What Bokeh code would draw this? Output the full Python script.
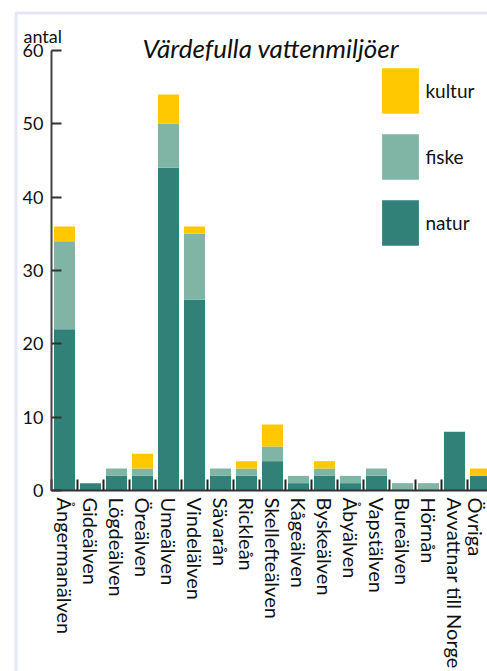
from bokeh.plotting import figure
from bokeh.models import (ColumnDataSource, Range1d, FixedTicker, Legend,
                          LegendItem, Label, BoxAnnotation)
from bokeh.embed import file_html
from bokeh.resources import INLINE

# Värdefulla vattenmiljöer per avrinningsområde
categories = ["Ångermanälven", "Gideälven", "Lögdeälven", "Öreälven", "Umeälven",
              "Vindelälven", "Sävarån", "Rickleån", "Skellefteälven", "Kågeälven",
              "Byskeälven", "Åbyälven", "Vapstälven", "Bureälven", "Hörnån",
              "Avvattnar till Norge", "Övriga"]
natur = [22, 1, 2, 2, 44, 26, 2, 2, 4, 1, 2, 1, 2, 0, 0, 8, 2]
fiske = [12, 0, 1, 1, 6, 9, 1, 1, 2, 1, 1, 1, 1, 1, 1, 0, 0]
kultur = [2, 0, 0, 2, 4, 1, 0, 1, 3, 0, 1, 0, 0, 0, 0, 0, 1]
y_ticks = [0, 10, 20, 30, 40, 50, 60]

series = ["natur", "fiske", "kultur"]
colors = {"natur": "#318178", "fiske": "#80B4A4", "kultur": "#FFC800"}
FONT = "Lato"

# canvas geometry (px); the plot frame covers the whole canvas and the
# axes are pinned at the data origin
W, H = 487, 671
AXIS_X, AXIS_Y = 51, 490          # canvas position of the axis corner
CAT_PX = 26                       # width of one category slot
Y_PX = (AXIS_Y - 50) / 60.0       # pixels per unit on the y axis

xs = list(range(len(categories)))
source = ColumnDataSource(dict(x=xs, natur=natur, fiske=fiske, kultur=kultur))

x0 = -0.5
x_start = x0 - AXIS_X / CAT_PX
x_end = x0 + (W - AXIS_X) / CAT_PX
y_start = -(H - AXIS_Y) / Y_PX
y_end = AXIS_Y / Y_PX

p = figure(width=W, height=H, x_range=Range1d(x_start, x_end),
           y_range=Range1d(y_start, y_end),
           output_backend="svg", toolbar_location=None,
           min_border_left=0, min_border_right=0, min_border_top=0,
           min_border_bottom=0)
p.title.visible = False
p.outline_line_color = None
p.background_fill_color = "white"
p.border_fill_color = "white"
p.xgrid.visible = False
p.ygrid.visible = False

renderers = p.vbar_stack(series, x="x", width=0.81, source=source,
                         color=[colors[s] for s in series], line_color=None)
rmap = dict(zip(series, renderers))

# x axis: names under the bars, short ticks between the slots
xa = p.xaxis[0]
xa.fixed_location = 0
xa.bounds = (x0, x_end)
xa.ticker = FixedTicker(ticks=xs, minor_ticks=[i - 0.5 for i in range(len(categories) + 1)])
xa.major_label_overrides = {i: name for i, name in zip(xs, categories)}
xa.major_label_orientation = "vertical"
xa.major_label_text_font = FONT
xa.major_label_text_font_size = "20px"
xa.major_label_text_color = "#111111"
xa.major_label_standoff = 7
xa.major_tick_in = 0
xa.major_tick_out = 0
xa.minor_tick_in = 11
xa.minor_tick_out = 0
xa.minor_tick_line_width = 2
xa.minor_tick_line_color = "#222222"
xa.axis_line_width = 2
xa.axis_line_color = "#333333"

# y axis
ya = p.yaxis[0]
ya.fixed_location = x0
ya.ticker = FixedTicker(ticks=y_ticks)
ya.bounds = (0, 60)
ya.major_tick_in = 10
ya.major_tick_out = 0
ya.major_tick_line_width = 2
ya.major_tick_line_color = "#333333"
ya.minor_tick_line_color = None
ya.axis_line_width = 2
ya.axis_line_color = "#444444"
ya.major_label_text_font = FONT
ya.major_label_text_font_size = "18px"
ya.major_label_text_color = "#111111"
ya.major_label_standoff = 8

# frame around the chart (left and top edges visible)
p.add_layout(BoxAnnotation(left=15.5, right=W + 200, top=H - 12.5, bottom=-200,
                           left_units="screen", right_units="screen",
                           top_units="screen", bottom_units="screen",
                           fill_color=None, line_color="#AAB4DA", line_width=3,
                           level="underlay"))

# title and axis unit
p.add_layout(Label(x=142, y=H - 47, x_units="screen", y_units="screen",
                   text="Värdefulla vattenmiljöer", text_font=FONT,
                   text_font_style="italic", text_font_size="26px",
                   text_color="#111111", text_baseline="alphabetic", text_align="left"))
p.add_layout(Label(x=23, y=H - 35, x_units="screen", y_units="screen",
                   text="antal", text_font=FONT, text_font_size="18px",
                   text_color="#111111", text_baseline="alphabetic", text_align="left"))

legend = Legend(items=[LegendItem(label=s, renderers=[rmap[s]]) for s in ["kultur", "fiske", "natur"]],
                location=(377.4, H - 251.3),
                glyph_width=46, glyph_height=57, spacing=9, padding=0, margin=0,
                label_standoff=2, border_line_color=None, background_fill_alpha=0,
                label_text_font=FONT, label_text_font_size="19px",
                label_text_color="#111111")
p.add_layout(legend)

open("out.html", "w").write(file_html(p, INLINE))
